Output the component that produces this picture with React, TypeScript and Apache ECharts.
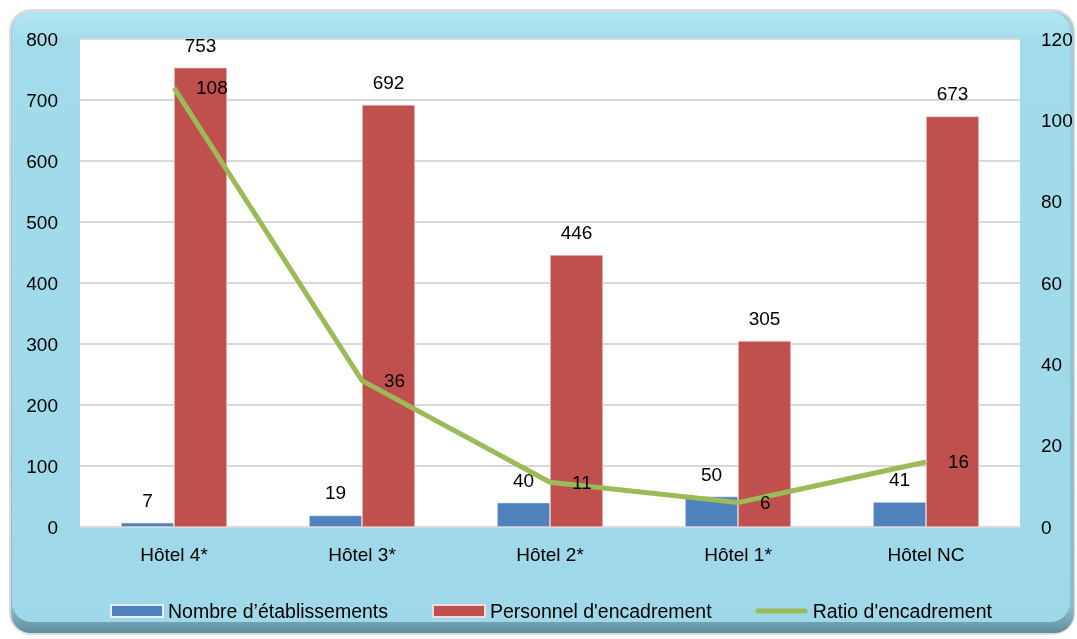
import React, { useEffect, useRef } from "react";
import * as echarts from "echarts";

const categories = ["Hôtel 4*", "Hôtel 3*", "Hôtel 2*", "Hôtel 1*", "Hôtel NC"];
const etablissements = [7, 19, 40, 50, 41];
const personnel = [753, 692, 446, 305, 673];
const ratio = [108, 36, 11, 6, 16];
const seriesNames = ["Nombre d’établissements", "Personnel d'encadrement", "Ratio d'encadrement"];

const FONT = "'Liberation Sans', Arial, sans-serif";
const FS = 19;

export default function App() {
  const ref = useRef<HTMLDivElement>(null);
  useEffect(() => {
    const chart = echarts.init(ref.current!, null, { renderer: "svg" });
    chart.setOption({
      animation: false,
      textStyle: { fontFamily: FONT },
      graphic: [
        {
          type: "rect",
          z: -10,
          shape: { x: 9, y: 9, width: 1066, height: 626, r: 22 },
          style: { fill: "#dcdcdc" },
        },
        {
          type: "rect",
          z: -9,
          shape: { x: 11, y: 12, width: 1063, height: 621, r: 20 },
          style: {
            fill: new echarts.graphic.LinearGradient(0, 0, 0, 1, [
              { offset: 0, color: "#9fd0dc" },
              { offset: 0.96, color: "#8cbccb" },
              { offset: 1, color: "#5f8d9b" },
            ]),
          },
        },
        {
          type: "rect",
          z: -8,
          shape: { x: 12, y: 12, width: 1058, height: 610, r: 20 },
          style: {
            fill: new echarts.graphic.LinearGradient(0, 0, 0, 1, [
              { offset: 0, color: "#b3e8f5" },
              { offset: 0.05, color: "#a2dbea" },
              { offset: 1, color: "#9fd8e8" },
            ]),
          },
        },
      ],
      grid: {
        left: 80,
        right: 57,
        top: 39,
        bottom: 112,
        outerBoundsMode: "none",
        containLabel: false,
        show: true,
        backgroundColor: "#ffffff",
        borderWidth: 0,
      },
      legend: {
        left: 105,
        top: 596,
        itemWidth: 52,
        itemHeight: 12,
        itemGap: 44,
        textStyle: { fontSize: 19.5, color: "#000", fontFamily: FONT },
        data: [
          { name: seriesNames[0], icon: "rect" },
          { name: seriesNames[1], icon: "rect" },
          {
            name: seriesNames[2],
            icon: "path://M2.5,0 H49.5 A2.5,2.5 0 0 1 49.5,5 H2.5 A2.5,2.5 0 0 1 2.5,0 Z",
            itemStyle: { color: "#9bbb59" },
          },
        ],
      },
      xAxis: {
        type: "category",
        data: categories,
        axisTick: { show: false },
        axisLine: { lineStyle: { color: "#d9d9d9", width: 2 } },
        axisLabel: { color: "#000", fontSize: FS, margin: 18, fontFamily: FONT },
      },
      yAxis: [
        {
          type: "value",
          min: 0,
          max: 800,
          interval: 100,
          axisLabel: { color: "#000", fontSize: FS, margin: 22, fontFamily: FONT },
          splitLine: { lineStyle: { color: "#d9d9d9", width: 2 } },
          axisLine: { show: false },
          axisTick: { show: false },
        },
        {
          type: "value",
          min: 0,
          max: 120,
          interval: 20,
          axisLabel: { color: "#000", fontSize: FS, margin: 21, fontFamily: FONT },
          splitLine: { show: false },
          axisLine: { show: false },
          axisTick: { show: false },
        },
      ],
      series: [
        {
          name: seriesNames[0],
          type: "bar",
          data: etablissements,
          barWidth: 53,
          barGap: "0%",
          itemStyle: { color: "#4f81bd", borderColor: "#e8eef6", borderWidth: 0.6 },
          label: { show: true, position: "top", distance: 13, color: "#000", fontSize: FS, fontFamily: FONT },
        },
        {
          name: seriesNames[1],
          type: "bar",
          data: personnel,
          barWidth: 53,
          barGap: "0%",
          itemStyle: { color: "#c0504d", borderColor: "#f2dcdb", borderWidth: 0.6 },
          label: { show: true, position: "top", distance: 13, color: "#000", fontSize: FS, fontFamily: FONT },
        },
        {
          name: seriesNames[2],
          type: "line",
          yAxisIndex: 1,
          data: ratio,
          symbol: "circle",
          symbolSize: 0.1,
          showSymbol: true,
          lineStyle: { color: "#9bbb59", width: 5 },
          itemStyle: { color: "#9bbb59" },
          label: { show: true, position: "right", distance: 22, color: "#000", fontSize: FS, fontFamily: FONT },
          z: 5,
        },
      ],
    });
    return () => chart.dispose();
  }, []);
  return (
    <div
      ref={ref}
      style={{ position: "fixed", left: 0, top: 0, width: 1077, height: 639 }}
    />
  );
}
